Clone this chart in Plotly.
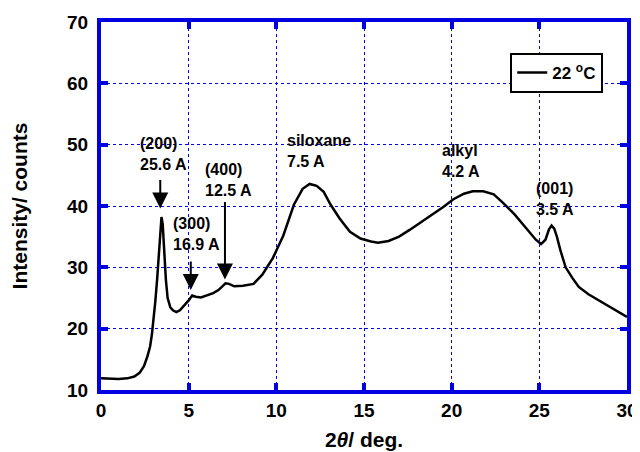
import plotly.graph_objects as go

# Data
two_theta = [0, 0.5, 1.0, 1.5, 1.9, 2.2, 2.45, 2.65, 2.8, 2.9, 3.0, 3.1, 3.2, 3.3, 3.38, 3.45,
             3.52, 3.6, 3.7, 3.8, 3.95, 4.1, 4.3, 4.5, 4.8, 5.0, 5.2, 5.4, 5.7, 6.0, 6.4, 6.7,
             6.95, 7.1, 7.3, 7.6, 8.1, 8.7, 9.2, 9.8, 10.4, 11.0, 11.5, 11.9, 12.3, 12.7, 13.1,
             13.6, 14.2, 14.8, 15.4, 15.8, 16.4, 17.0, 17.6, 18.5, 19.5, 20.1, 20.7, 21.2, 21.8,
             22.4, 22.9, 23.6, 24.3, 24.8, 25.1, 25.35, 25.55, 25.7, 25.85, 26.0, 26.2, 26.5,
             26.9, 27.25, 27.8, 28.4, 29.0, 29.5, 30.0]
intensity = [11.9, 11.8, 11.8, 11.9, 12.2, 12.8, 13.9, 15.5, 17.1, 19.0, 21.5, 24.5, 28.0, 31.5,
             35.5, 38.2, 37.0, 32.3, 28.0, 25.0, 23.5, 23.0, 22.7, 23.0, 23.9, 24.6, 25.4, 25.2,
             25.1, 25.4, 25.8, 26.3, 27.0, 27.4, 27.3, 26.9, 27.0, 27.3, 28.8, 31.5, 35.2, 40.2,
             42.8, 43.6, 43.3, 42.3, 40.2, 38.0, 35.8, 34.7, 34.2, 34.0, 34.3, 35.0, 36.1, 37.8,
             39.8, 41.1, 42.0, 42.4, 42.4, 41.9, 40.6, 38.6, 36.3, 34.5, 33.8, 34.5, 36.2, 36.8,
             36.3, 35.0, 32.8, 30.0, 28.2, 26.8, 25.6, 24.6, 23.6, 22.8, 21.9]

# peak labels: text, text-left x, text-center y
label_texts = ["(200)<br>25.6 A", "(300)<br>16.9 A", "(400)<br>12.5 A",
               "siloxane<br>7.5 A", "alkyl<br>4.2 A", "(001)<br>3.5 A"]
label_x = [2.11, 4.0, 5.84, 10.48, 19.35, 24.69]
label_y = [48.4, 35.45, 44.3, 48.9, 47.35, 41.1]

# arrows: x, tail y, tip y
arrow_x = [3.38, 5.12, 7.07]
arrow_tail = [44.5, 31.2, 40.9]
arrow_tip = [39.6, 26.3, 28.0]

series_name = "22 <sup>o</sup>C"

x_ticks = [0, 5, 10, 15, 20, 25, 30]
y_ticks = [10, 20, 30, 40, 50, 60, 70]

BLUE = "#0000E0"
FONT = "Liberation Sans, Arial, sans-serif"

fig = go.Figure()
fig.add_trace(go.Scatter(x=two_theta, y=intensity, mode="lines", name=series_name,
                         line=dict(color="black", width=2.5)))

for t, lx, ly in zip(label_texts, label_x, label_y):
    fig.add_annotation(x=lx, y=ly, xref="x", yref="y", text=t, showarrow=False,
                       xanchor="left", yanchor="middle", align="left",
                       font=dict(family=FONT, size=16, color="black", weight="bold"))

for ax_, ta, tp in zip(arrow_x, arrow_tail, arrow_tip):
    fig.add_annotation(x=ax_, y=tp, ax=ax_, ay=ta, xref="x", yref="y", axref="x", ayref="y",
                       text="", showarrow=True, arrowhead=2, arrowsize=1.6, arrowwidth=2,
                       arrowcolor="black", standoff=0, startstandoff=0)

axis_common = dict(showline=True, linewidth=4, linecolor=BLUE, mirror="ticks",
                   ticks="inside", ticklen=7, tickwidth=3.5, tickcolor=BLUE,
                   showgrid=True, gridcolor="#0000FF", gridwidth=1.2, griddash="dot",
                   zeroline=False, automargin=False,
                   tickfont=dict(family=FONT, size=19, color="black", weight="bold"))

fig.update_xaxes(range=[0, 30], tickvals=x_ticks, **axis_common,
                 title=dict(text="2<i>θ</i>/ deg.", standoff=14,
                            font=dict(family=FONT, size=21, color="black", weight="bold")))
fig.update_yaxes(range=[10, 70], tickvals=y_ticks, ticklabelstandoff=5, **axis_common,
                 title=dict(text="Intensity/ counts", standoff=35,
                            font=dict(family=FONT, size=21, color="black", weight="bold")))

# the page body adds an 8 px offset, so the figure is 8 px smaller on each side
fig.update_layout(
    width=632, height=444,
    margin=dict(l=93, r=13, t=14, b=62),
    plot_bgcolor="white", paper_bgcolor="white",
    showlegend=True,
    legend=dict(x=0.778, y=0.916, xanchor="left", yanchor="top",
                bordercolor="black", borderwidth=2, bgcolor="white",
                font=dict(family=FONT, size=17, color="black", weight="bold")),
)

fig.write_html("out.html")
